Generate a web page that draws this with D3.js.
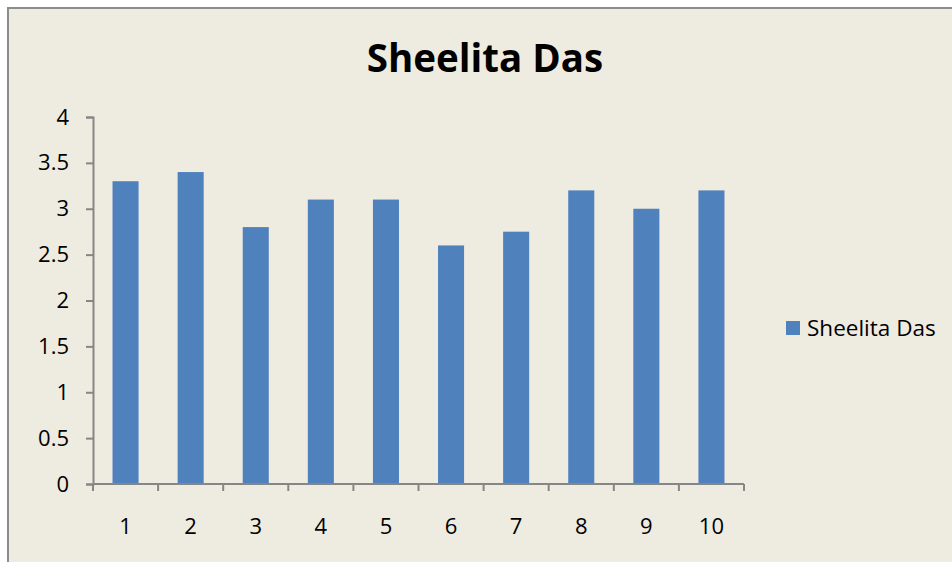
<!DOCTYPE html>
<html>
<head>
<meta charset="utf-8">
<script src="https://cdn.jsdelivr.net/npm/d3@7"></script>
<style>
  body { margin: 0; background: #fff; }
  text { font-family: "Open Sans", "Noto Sans", sans-serif; fill: #000; }
</style>
</head>
<body>
<svg id="chart"></svg>
<script>
const categories = ["1", "2", "3", "4", "5", "6", "7", "8", "9", "10"];
const values = [3.3, 3.4, 2.8, 3.1, 3.1, 2.6, 2.75, 3.2, 3.0, 3.2];
const yTicks = [0, 0.5, 1, 1.5, 2, 2.5, 3, 3.5, 4];
const seriesName = "Sheelita Das";

const width = 952, height = 562;
const svg = d3.select("#chart")
    .attr("width", width)
    .attr("height", height);

// chart area background + frame
svg.append("rect")
    .attr("x", 8).attr("y", 8)
    .attr("width", 960).attr("height", 570)
    .attr("fill", "#eeebe0")
    .attr("stroke", "#8c8c8c")
    .attr("stroke-width", 2);

svg.append("text")
    .attr("x", 485).attr("y", 72)
    .attr("text-anchor", "middle")
    .style("font-size", "38.5px")
    .style("font-weight", "bold")
    .text(seriesName);

const plot = { left: 93, right: 744, top: 117, bottom: 484 };

const x = d3.scaleBand()
    .domain(categories)
    .range([plot.left, plot.right])
    .paddingInner(0.6)
    .paddingOuter(0.3);

const y = d3.scaleLinear()
    .domain([0, 4])
    .range([plot.bottom, plot.top]);

const g = svg.append("g");

g.selectAll(".bar")
    .data(values)
    .join("rect")
    .attr("class", "bar")
    .attr("x", (d, i) => x(categories[i]))
    .attr("y", d => y(d))
    .attr("width", x.bandwidth())
    .attr("height", d => y(0) - y(d))
    .attr("fill", "#4f81bd");

// y axis
const yAxis = g.append("g")
    .attr("transform", `translate(${plot.left},0)`)
    .call(d3.axisLeft(y).tickValues(yTicks).tickSize(7).tickPadding(17).tickFormat(d3.format("")));

// x axis, ticks at category boundaries
const step = (plot.right - plot.left) / categories.length;
const xAxis = g.append("g")
    .attr("transform", `translate(0,${plot.bottom})`);
xAxis.append("line")
    .attr("x1", plot.left).attr("x2", plot.right)
    .attr("stroke", "#868686").attr("stroke-width", 2);
xAxis.selectAll(".xt")
    .data(d3.range(categories.length + 1))
    .join("line")
    .attr("x1", i => plot.left + i * step)
    .attr("x2", i => plot.left + i * step)
    .attr("y1", 0).attr("y2", 7)
    .attr("stroke", "#868686").attr("stroke-width", 2);
xAxis.selectAll(".xl")
    .data(categories)
    .join("text")
    .attr("x", d => x(d) + x.bandwidth() / 2)
    .attr("y", 50)
    .attr("text-anchor", "middle")
    .style("font-size", "22px")
    .text(d => d);

yAxis.select(".domain").attr("stroke", "#868686").attr("stroke-width", 2);
yAxis.selectAll(".tick line").attr("stroke", "#868686").attr("stroke-width", 2);
yAxis.selectAll(".tick text").style("font-size", "22px").attr("fill", "#000");

// legend
const legend = svg.append("g").attr("transform", "translate(786,321)");
legend.append("rect")
    .attr("width", 14).attr("height", 14)
    .attr("fill", "#4f81bd");
legend.append("text")
    .attr("x", 21).attr("y", 15)
    .style("font-size", "22.5px")
    .text(seriesName);
</script>
</body>
</html>
